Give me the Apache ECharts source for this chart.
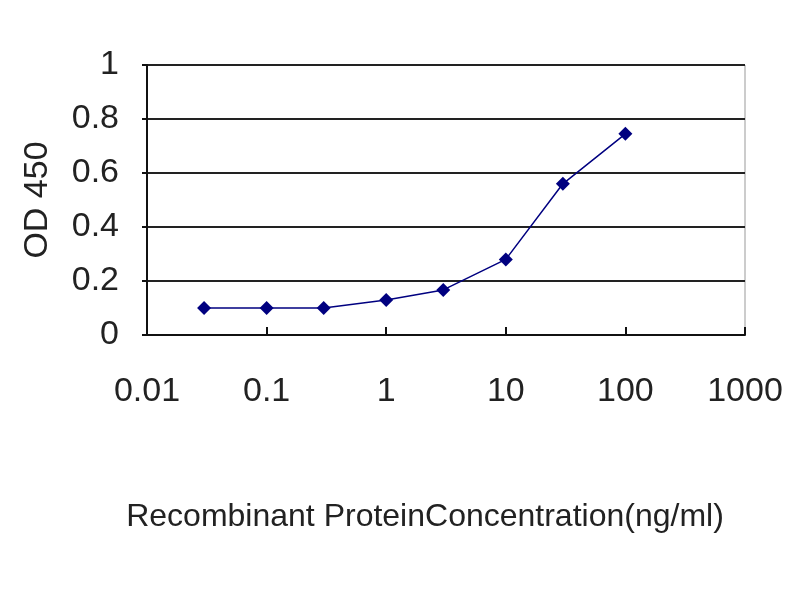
<!DOCTYPE html>
<html lang="en">
<head>
	<meta charset="UTF-8">
	<title>OD 450</title>
	<style>
		html, body { margin: 0; padding: 0; background: #fff; }
	</style>
</head>
<body>
	<div id="chart" style="width:800px;height:600px;"></div>
<script src="https://cdn.jsdelivr.net/npm/echarts@6/dist/echarts.min.js"></script>
<script>
	// concentration (ng/ml) and OD 450 readings
	var conc = [0.03, 0.1, 0.3, 1, 3, 10, 30, 100];
	var od = [0.10, 0.10, 0.10, 0.13, 0.167, 0.28, 0.56, 0.745];
	var xTicks = ['0.01', '0.1', '1', '10', '100', '1000'];
	var yTicks = ['0', '0.2', '0.4', '0.6', '0.8', '1'];

	var points = [];
	for (var i = 0; i < conc.length; i++) {
		points.push([conc[i], od[i]]);
	}

	var font = 'Liberation Sans, Arial, sans-serif';
	var myChart = echarts.init(document.getElementById('chart'));
	var option = {
		backgroundColor: '#fff',
		animation: false,
		grid: {
			left: 147, right: 55, top: 65, bottom: 265,
			show: true, borderColor: '#999', borderWidth: 1
		},
		xAxis: {
			type: 'log', logBase: 10, min: 0.01, max: 1000,
			name: 'Recombinant ProteinConcentration(ng/ml)',
			nameLocation: 'middle', nameGap: 166,
			nameTextStyle: { fontFamily: font, fontSize: 32, color: '#222', padding: [0, 42, 0, 0] },
			axisLine: { show: true, lineStyle: { color: '#111', width: 2 } },
			axisTick: { show: true, inside: true, length: 8, lineStyle: { color: '#111', width: 2 } },
			splitLine: { show: false },
			minorTick: { show: false },
			axisLabel: {
				fontFamily: font, fontSize: 34, color: '#222', margin: 40,
				formatter: function (v) {
					var k = Math.round(Math.log10(v)) + 2;
					return xTicks[k] !== undefined ? xTicks[k] : '';
				}
			}
		},
		yAxis: {
			type: 'value', min: 0, max: 1, interval: 0.2,
			name: 'OD 450',
			nameLocation: 'middle', nameGap: 92, nameRotate: 90,
			nameTextStyle: { fontFamily: font, fontSize: 34, color: '#222' },
			axisLine: { show: true, lineStyle: { color: '#111', width: 2 } },
			axisTick: { show: true, inside: false, length: 5, lineStyle: { color: '#111', width: 2 } },
			splitLine: { show: true, lineStyle: { color: '#222', width: 2 } },
			axisLabel: {
				fontFamily: font, fontSize: 34, color: '#222', margin: 28,
				formatter: function (v) {
					return yTicks[Math.round(v / 0.2)];
				}
			}
		},
		series: [{
			type: 'line',
			data: points,
			symbol: 'diamond',
			symbolSize: 14,
			itemStyle: { color: '#000080' },
			lineStyle: { color: '#000080', width: 1.5 }
		}]
	};
	myChart.setOption(option);
</script>
</body>
</html>
